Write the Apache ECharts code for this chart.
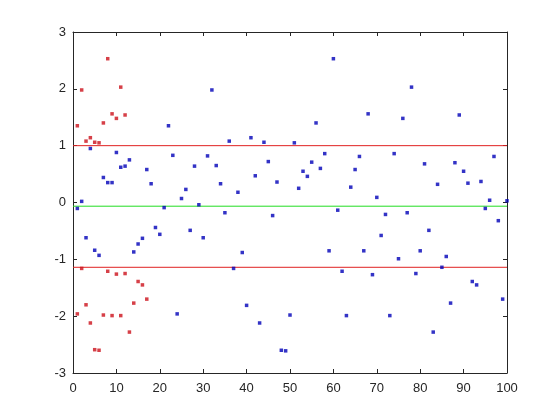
<!DOCTYPE html>
<html>
<head>
<meta charset="utf-8">
<script src="https://cdn.jsdelivr.net/npm/echarts@6/dist/echarts.min.js"></script>
<style>html,body{margin:0;padding:0;background:#fff;}#c{width:560px;height:420px;}</style>
</head>
<body>
<div id="c"></div>
<script>
// Data
const blueValues = [
  -0.105, 0.02, -0.62, 0.95, -0.84, -0.93, 0.44, 0.35, 0.35, 0.88,
  0.62, 0.64, 0.75, -0.87, -0.73, -0.63, 0.58, 0.33, -0.44, -0.56,
  -0.09, 1.35, 0.83, -1.96, 0.07, 0.23, -0.49, 0.64, -0.04, -0.62,
  0.82, 1.98, 0.65, 0.33, -0.18, 1.08, -1.16, 0.18, -0.88, -1.81,
  1.14, 0.47, -2.12, 1.06, 0.72, -0.23, 0.36, -2.60, -2.61, -1.98,
  1.05, 0.25, 0.55, 0.46, 0.71, 1.40, 0.60, 0.86, -0.85, 2.53,
  -0.135, -1.21, -1.99, 0.27, 0.58, 0.81, -0.85, 1.56, -1.27, 0.09,
  -0.58, -0.21, -1.99, 0.86, -0.99, 1.48, -0.18, 2.03, -1.25, -0.85,
  0.68, -0.49, -2.28, 0.32, -1.14, -0.95, -1.77, 0.70, 1.54, 0.55,
  0.34, -1.39, -1.45, 0.37, -0.105, 0.04, 0.81, -0.32, -1.70, 0.03
];
const redUpperValues = [1.35, 1.98, 1.08, 1.14, 1.06, 1.05, 1.40, 2.53, 1.56, 1.48, 2.03, 1.54];
const redLowerValues = [-1.96, -1.16, -1.80, -2.12, -2.59, -2.60, -1.98, -1.21, -1.99, -1.26, -1.99, -1.25, -2.28, -1.77, -1.39, -1.45, -1.70];
const meanValue = -0.065;
const upperLimit = 1.0;
const lowerLimit = -1.14;
const xRange = [0, 100];
const yRange = [-3, 3];

const toPts = (arr) => arr.map((v, i) => [i + 1, v]);
const hline = (v) => [[xRange[0], v], [xRange[1], v]];

const chart = echarts.init(document.getElementById('c'), null, {renderer: 'canvas'});
const axisCol = '#262626';
const font = 'Liberation Sans, Arial, Helvetica, sans-serif';
const baseX = {
  type: 'value', min: xRange[0], max: xRange[1], interval: 10,
  axisLine: {show: true, onZero: false, lineStyle: {color: axisCol, width: 1}},
  axisTick: {show: true, inside: true, length: 4, lineStyle: {color: axisCol}},
  splitLine: {show: false}
};
const baseY = {
  type: 'value', min: yRange[0], max: yRange[1], interval: 1,
  axisLine: {show: true, onZero: false, lineStyle: {color: axisCol, width: 1}},
  axisTick: {show: true, inside: true, length: 4, lineStyle: {color: axisCol}},
  splitLine: {show: false}
};
chart.setOption({
  animation: false,
  backgroundColor: '#ffffff',
  grid: {left: 73, right: 53, top: 32, bottom: 47, containLabel: false},
  xAxis: [
    Object.assign({}, baseX, {position: 'bottom', axisLabel: {color: '#262626', fontSize: 13, fontFamily: font, margin: 9}}),
    Object.assign({}, baseX, {position: 'top', axisLabel: {show: false}})
  ],
  yAxis: [
    Object.assign({}, baseY, {position: 'left', axisLabel: {color: '#262626', fontSize: 13, fontFamily: font, margin: 7}}),
    Object.assign({}, baseY, {position: 'right', axisLabel: {show: false}})
  ],
  series: [
    {type: 'line', data: hline(upperLimit), symbol: 'none', lineStyle: {color: '#e02020', width: 1}, silent: true, z: 1},
    {type: 'line', data: hline(lowerLimit), symbol: 'none', lineStyle: {color: '#e02020', width: 1}, silent: true, z: 1},
    {type: 'line', data: hline(meanValue), symbol: 'none', lineStyle: {color: '#22dd22', width: 1}, silent: true, z: 1},
    {type: 'scatter', data: toPts(blueValues), symbol: 'rect', symbolSize: 3.5, itemStyle: {color: '#0000b8'}, z: 3},
    {type: 'scatter', data: toPts(redUpperValues), symbol: 'rect', symbolSize: 3.5, itemStyle: {color: '#cc101a'}, z: 3},
    {type: 'scatter', data: toPts(redLowerValues), symbol: 'rect', symbolSize: 3.5, itemStyle: {color: '#cc101a'}, z: 3}
  ]
});
</script>
</body>
</html>
